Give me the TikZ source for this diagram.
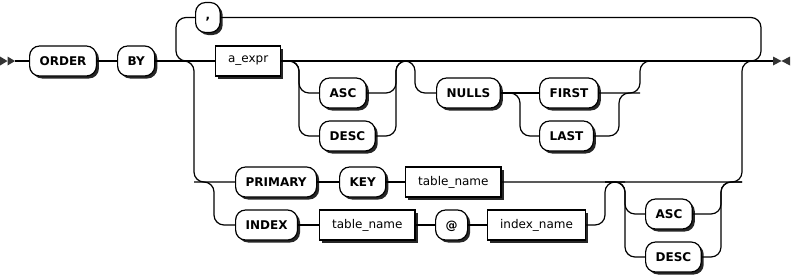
\documentclass[tikz,border=0pt]{standalone}
\usepackage{fontspec}
\setmainfont{DejaVu Sans}
\usetikzlibrary{shadows}

\begin{document}
\begin{tikzpicture}[
  x=1pt, y=-1pt,
  line width=1.2pt,
  font=\fontsize{12}{14}\selectfont,
  blk/.style={draw, fill=white, anchor=west, minimum height=30pt,
    general shadow={shadow xshift=2.5pt, shadow yshift=-2.5pt, fill=black!85}},
  term/.style={blk, rounded corners=10pt, inner xsep=10pt, text height=8.8pt, text depth=0pt,
    font=\fontsize{12}{14}\selectfont\bfseries},
  nterm/.style={blk, inner xsep=12.5pt},
  track/.style={rounded corners=10pt},
  endmark/.style={fill=black!80},
]
\useasboundingbox (0,0) rectangle (791,277);

% ---------------- boxes ----------------
\foreach \n/\x/\y/\t in {order/29/61/ORDER, by/117/61/BY,
    asc1/319/93/ASC, desc1/319/136/DESC, nulls/436/93/NULLS,
    first/539/93/FIRST, last/539/136/LAST,
    primary/235/182/PRIMARY, key/339/182/KEY, index/235/225/INDEX,
    atsign/435/225/@, asc2/645/214/ASC, desc2/645/257/DESC} {
  \node[term] (\n) at (\x,\y) {\t};
}
\node[term, text height=4pt] (comma) at (195,17.5) {,};
\node[nterm] (aexpr) at (215,61) {a\_expr};
\node[nterm] (tname) at (405,182) {table\_name};
\node[nterm] (tname2) at (319,225) {table\_name};
\node[nterm] (iname) at (487,225) {index\_name};

% ---------------- rails (x of the vertical tracks) ----------------
\coordinate (start) at (15,61);
\coordinate (end) at (773,61);
\coordinate (loopW) at (176,61);
\coordinate (loopE) at (761,61);
\coordinate (altW) at (194,61);
\coordinate (altE) at (742,61);
\coordinate (ordW1) at (299,61);
\coordinate (ordE1) at (396,61);
\coordinate (nullW) at (415,61);
\coordinate (nullE) at (640,61);
\coordinate (flW) at (520,93);
\coordinate (flE) at (619,93);
\coordinate (subW) at (214,182);
\coordinate (subE) at (605,182);
\coordinate (ordW2) at (625,182);
\coordinate (ordE2) at (721,182);

% start / end markers
\fill[endmark] (0,56.5) -- (7.5,61) -- (0,65.5) -- cycle;
\fill[endmark] (7.5,56.5) -- (start) -- (7.5,65.5) -- cycle;
\fill[endmark] (773,56.5) -- (781.5,61) -- (773,65.5) -- cycle;
\fill[endmark] (790,56.5) -- (781.5,61) -- (790,65.5) -- cycle;

% ---------------- main line ----------------
\draw (start) -- (order);
\draw (order) -- (by);
\draw (by) -- (aexpr);
\draw (aexpr) -- (end);

% comma loop
\draw[track] (comma.west) -| (loopW) -- (altW);
\draw[track] (comma.east) -| (loopE) -- (altE);

% optional ASC / DESC
\foreach \n in {asc1,desc1} {
  \draw[track] (aexpr.east) -| (ordW1|-\n.west) -- (\n.west);
  \draw[track] (\n.east) -| (ordE1) -- (nullW);
}

% optional NULLS FIRST / LAST
\draw[track] (ordE1) -| (nullW|-nulls.west) -- (nulls.west);
\draw (nulls) -- (first);
\draw[track] (nulls.east) -| (flW|-last.west) -- (last.west);
\draw[track] (last.east) -| (flE) -- (nullE|-flE);
\draw[track] (first.east) -| (nullE) -- (altE);

% ---------------- PRIMARY KEY / INDEX ----------------
\draw[track] (loopW) -| (altW|-primary.west) -- (primary.west);
\draw[track] (altW|-primary.west) -| (subW|-index.west) -- (index.west);
\draw (primary) -- (key);
\draw (key) -- (tname);
\draw[track] (tname.east) -| (altE) -- (loopE);
\draw (index) -- (tname2);
\draw (tname2) -- (atsign);
\draw (atsign) -- (iname);
\draw[track] (iname.east) -| (subE) -- (ordW2);

% optional ASC / DESC (bottom)
\foreach \n in {asc2,desc2} {
  \draw[track] (subE) -| (ordW2|-\n.west) -- (\n.west);
  \draw[track] (\n.east) -| (ordE2) -- (altE|-ordE2);
}

\end{tikzpicture}
\end{document}
